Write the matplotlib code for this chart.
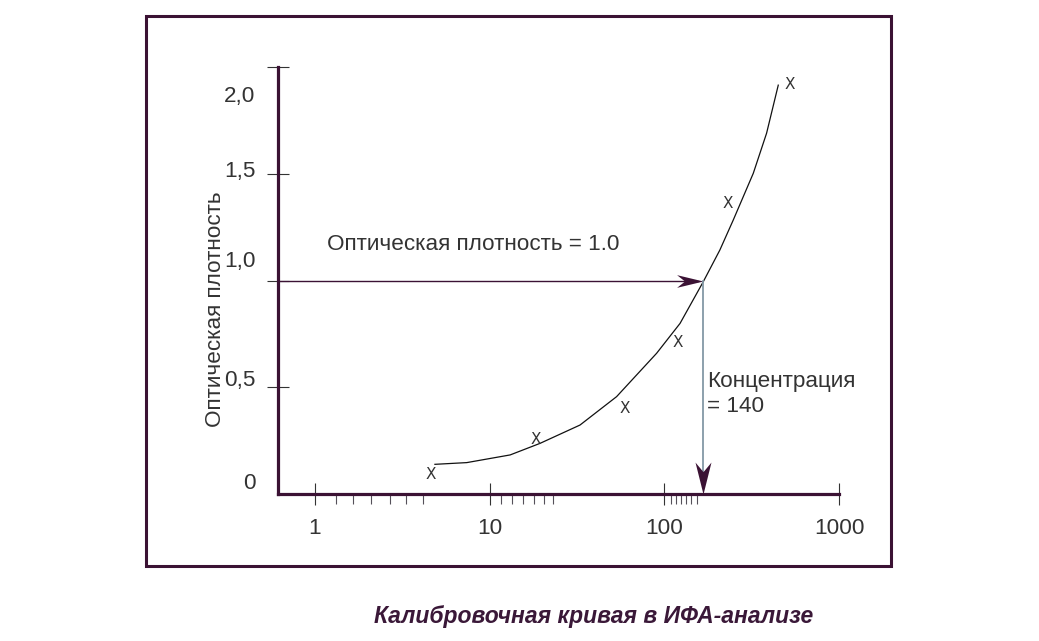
import matplotlib.pyplot as plt
import numpy as np
from matplotlib.path import Path
from matplotlib.patches import Rectangle
from matplotlib.ticker import FixedLocator, NullFormatter

plt.rcParams['font.family'] = ['Liberation Sans', 'DejaVu Sans']

# калибровочная кривая
curve_x = [4.86, 7.39, 13.1, 19.4, 32.9, 53.3, 90.3, 123, 167, 208, 248, 323, 385, 449]
curve_y = [0.139, 0.147, 0.183, 0.237, 0.323, 0.456, 0.659, 0.799, 0.994, 1.143, 1.283, 1.502, 1.69, 1.915]

# точки стандартов (крестики)
pts_x = [4.58, 18.4, 59.7, 119, 230, 523]
pts_y = [0.09, 0.255, 0.40, 0.71, 1.36, 1.92]

# оптическая плотность образца и найденная концентрация
od_sample = 1.0
conc_sample = 167

x_major = [1, 10, 100, 1000]
x_major_labels = ['1', '10', '100', '1000']
x_minor = [1.32, 1.65, 2.10, 2.69, 3.32, 4.15,
           11.6, 13.4, 15.5, 17.9, 20.5, 23.0,
           109, 116, 124, 133, 142, 154]
y_major = [0.5, 1.0, 1.5, 2.0]
y_labels = ['0', '0,5', '1,0', '1,5', '2,0']
y_label_pos = [0.05, 0.53, 1.09, 1.51, 1.86]   # подписи нарисованы не точно у рисок

purple = '#3b1234'
textc = '#333333'
fs = 16.2

W, H = 1039, 641
fig = plt.figure(figsize=(W / 100, H / 100), dpi=100)
ax = fig.add_axes([278 / W, 1 - 494 / H, (839 - 278) / W, (494 - 67) / H])
ax.set_xscale('log')
ax.set_xlim(0.614, 1000)
ax.set_ylim(0, 2.0)

for s in ['top', 'right']:
    ax.spines[s].set_visible(False)
for s in ['left', 'bottom']:
    ax.spines[s].set_color(purple)
    ax.spines[s].set_linewidth(2.3)

ax.xaxis.set_major_locator(FixedLocator(x_major))
ax.set_xticklabels(x_major_labels)
ax.xaxis.set_minor_locator(FixedLocator(x_minor))
ax.xaxis.set_minor_formatter(NullFormatter())
ax.tick_params(axis='x', which='major', direction='inout', length=16, width=0.8,
               color='#333333', labelsize=fs, labelcolor=textc, pad=9)
ax.tick_params(axis='x', which='minor', direction='out', length=7, width=0.8,
               color='#55505a')
ax.set_yticks(y_major)
ax.set_yticklabels([])
ax.tick_params(axis='y', which='major', direction='inout', length=16.5, width=0.8,
               color='#333333')

for lab, yp in zip(y_labels, y_label_pos):
    ax.text(-0.04, yp, lab, transform=ax.get_yaxis_transform(), ha='right', va='center',
            fontsize=fs, color=textc)

ax.text(-0.112, 0.433, 'Оптическая плотность', transform=ax.transAxes, rotation=90,
        ha='center', va='center', fontsize=fs, color=textc)

# кривая и точки
ax.plot(curve_x, curve_y, color='#111111', lw=0.9, clip_on=False)
for px, py in zip(pts_x, pts_y):
    ax.text(px, py, 'X', ha='center', va='center', fontsize=11, color='#333333',
            family='DejaVu Sans')

# стрелки
right_head = Path([(0, 0), (-1, 0.24), (-0.7, 0), (-1, -0.24), (0, 0)],
                  [Path.MOVETO, Path.LINETO, Path.LINETO, Path.LINETO, Path.CLOSEPOLY])
down_head = Path([(0, 0), (0.25, 1), (0, 0.7), (-0.25, 1), (0, 0)],
                 [Path.MOVETO, Path.LINETO, Path.LINETO, Path.LINETO, Path.CLOSEPOLY])

ax.plot([0.614, conc_sample * 0.93], [od_sample, od_sample], color=purple, lw=1.0, clip_on=False)
ax.plot([conc_sample], [od_sample], marker=right_head, ms=38, color=purple, mew=0, clip_on=False)
ax.plot([conc_sample, conc_sample], [od_sample, 0.08], color='#8399a6', lw=1.3)
ax.plot([conc_sample], [0.0], marker=down_head, ms=46, color=purple, mew=0, clip_on=False,
        zorder=5)

ax.text(1.17, 1.17, 'Оптическая плотность = 1.0', ha='left', va='center',
        fontsize=fs, color=textc)
ax.text(conc_sample * 1.05, 0.47, 'Концентрация\n= 140', ha='left', va='center',
        fontsize=fs, color=textc, linespacing=1.25)

# рамка и подпись
fig.add_artist(Rectangle((146 / W, 1 - 566 / H), (891 - 146) / W, (566 - 16) / H,
                         transform=fig.transFigure, fill=False, lw=2.2, ec=purple))
fig.text(594 / W, 1 - 617 / H, 'Калибровочная кривая в ИФА-анализе', ha='center', va='center',
         fontsize=16.5, fontweight='bold', fontstyle='italic', color='#3a1838')

fig.savefig('out.png', dpi=100)
